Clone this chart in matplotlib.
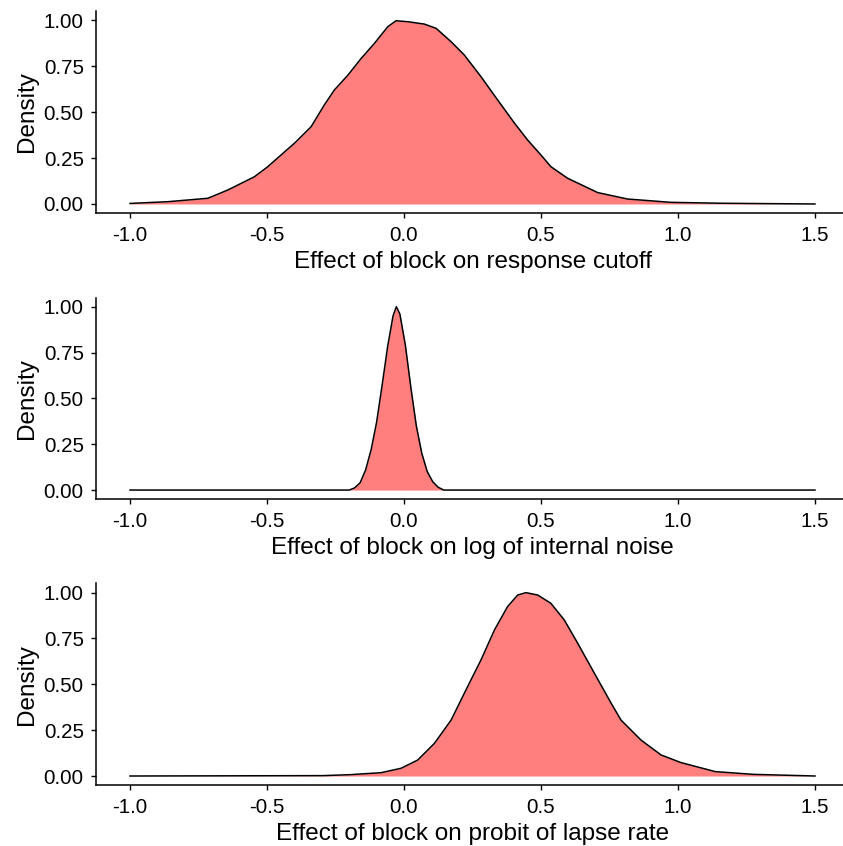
import numpy as np
import matplotlib
matplotlib.use("Agg")
import matplotlib.pyplot as plt

plt.rcParams['font.family'] = ['Liberation Sans', 'DejaVu Sans']

# scaled densities (peak = 1)
cutoff_x = [-1.0, -0.862, -0.716, -0.643, -0.546, -0.497, -0.449, -0.4, -0.339,
            -0.291, -0.254, -0.205, -0.157, -0.108, -0.059, -0.029, 0.013, 0.074,
            0.117, 0.172, 0.22, 0.281, 0.342, 0.403, 0.451, 0.5, 0.536, 0.597,
            0.707, 0.816, 0.974, 1.157, 1.5]
cutoff_y = [0.003, 0.0125, 0.031, 0.076, 0.148, 0.203, 0.266, 0.33, 0.42,
            0.538, 0.62, 0.70, 0.79, 0.873, 0.964, 0.996, 0.991, 0.978,
            0.955, 0.882, 0.81, 0.692, 0.565, 0.44, 0.348, 0.266, 0.203, 0.14,
            0.062, 0.027, 0.009, 0.004, 0.0]

noise_x = [-1.0, -0.20, -0.18, -0.16, -0.14, -0.12, -0.10, -0.08, -0.06, -0.04,
           -0.028, -0.015, 0.005, 0.025, 0.045, 0.065, 0.085, 0.105, 0.125,
           0.145, 1.5]
noise_y = [0.0, 0.0, 0.012, 0.04, 0.11, 0.22, 0.37, 0.57, 0.78, 0.95,
           1.0, 0.96, 0.79, 0.56, 0.35, 0.20, 0.10, 0.045, 0.015,
           0.0, 0.0]

lapse_x = [-1.0, -0.298, -0.2, -0.084, -0.011, 0.05, 0.111, 0.172, 0.232, 0.281,
           0.33, 0.378, 0.415, 0.445, 0.488, 0.536, 0.585, 0.634, 0.695, 0.756,
           0.792, 0.865, 0.938, 1.011, 1.136, 1.274, 1.5]
lapse_y = [0.0, 0.002, 0.007, 0.018, 0.042, 0.087, 0.178, 0.305, 0.487, 0.633,
           0.796, 0.924, 0.987, 1.0, 0.987, 0.942, 0.851, 0.724, 0.56, 0.397,
           0.305, 0.196, 0.115, 0.073, 0.024, 0.009, 0.0]

xlabels = ["Effect of block on response cutoff",
           "Effect of block on log of internal noise",
           "Effect of block on probit of lapse rate"]

fill_col = '#FF7F7F'

fig = plt.figure(figsize=(8.43, 8.46), dpi=100)
boxes = [[0.1136, 0.748, 0.8938, 0.2392],
         [0.1136, 0.4099, 0.8938, 0.2384],
         [0.1136, 0.0719, 0.8938, 0.2384]]
data = [(cutoff_x, cutoff_y), (noise_x, noise_y), (lapse_x, lapse_y)]

for box, (xs, ys), lab in zip(boxes, data, xlabels):
    ax = fig.add_axes(box)
    ax.fill_between(xs, ys, 0, color=fill_col, linewidth=0)
    ax.plot(xs, ys, color='black', lw=1.1)
    ax.set_xlim(-1.125, 1.625)
    ax.set_ylim(-0.05, 1.05)
    ax.set_xticks([-1.0, -0.5, 0.0, 0.5, 1.0, 1.5])
    ax.set_xticklabels(['-1.0', '-0.5', '0.0', '0.5', '1.0', '1.5'])
    ax.set_yticks([0, 0.25, 0.5, 0.75, 1.0])
    ax.set_yticklabels(['0.00', '0.25', '0.50', '0.75', '1.00'])
    for s in ['top', 'right']:
        ax.spines[s].set_visible(False)
    for s in ['left', 'bottom']:
        ax.spines[s].set_linewidth(1.1)
    ax.tick_params(labelsize=14.8, length=3.6, width=1.0, colors='black')
    ax.tick_params(axis='x', pad=5.8)
    ax.tick_params(axis='y', pad=5)
    ax.set_xlabel(lab, fontsize=17.5, labelpad=4)
    ax.set_ylabel('Density', fontsize=17.5, labelpad=4)

fig.savefig('out.png', dpi=100)
